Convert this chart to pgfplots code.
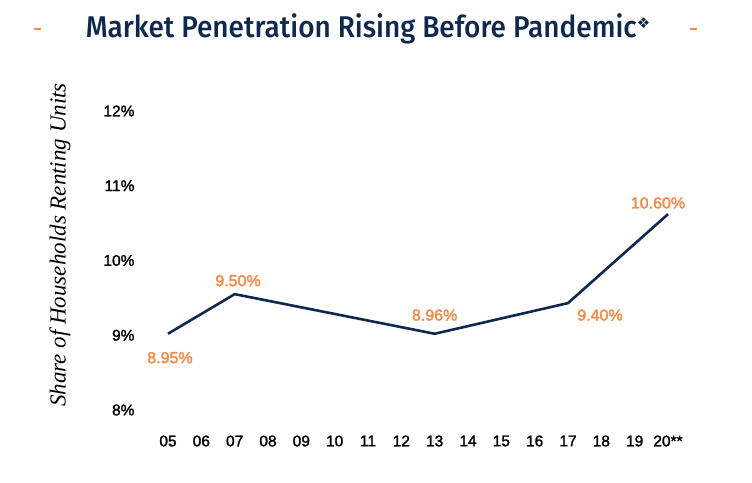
\documentclass[border=0pt]{standalone}
\usepackage{pgfplots}
\pgfplotsset{compat=1.18}
\usepackage{fontspec}
\setmainfont{Liberation Sans}
\newfontfamily\tickfont[FakeBold=1.6]{Liberation Sans}
\newfontfamily\labfont[FakeBold=2.2]{Liberation Sans}
\newfontfamily\titlefont{Fira Sans Medium}
\newfontfamily\serifit{Liberation Serif}
\newfontfamily\symfont{DejaVu Sans}
\definecolor{navy}{RGB}{14,40,78}
\definecolor{orng}{RGB}{247,138,72}
\begin{document}
\begin{tikzpicture}[x=1pt,y=1pt]
\useasboundingbox (-168,-72) rectangle (584,410);
\begin{axis}[
  scale only axis, width=500pt, height=299pt,
  xmin=5, xmax=20, ymin=8, ymax=12,
  axis line style={draw=none}, tick style={draw=none},
  xtick={5,...,20},
  xticklabels={05,06,07,08,09,10,11,12,13,14,15,16,17,18,19,20**},
  ytick={8,9,10,11,12},
  yticklabels={8\%,9\%,10\%,11\%,12\%},
  tick label style={font=\tickfont\fontsize{15.5}{18}\selectfont, text=black},
  xticklabel style={yshift=-22pt},
  yticklabel style={xshift=-30pt},
  clip=false,
]
\addplot[navy, line width=2.6pt, line join=round] coordinates {
 (5,9.02) (7,9.55) (13,9.02) (17,9.43) (20,10.62)
};
\begin{scope}[every node/.style={font=\labfont\fontsize{16}{18}\selectfont, text=orng}]
\node at (axis cs:5.06,8.70) {8.95\%};
\node at (axis cs:7.1,9.73) {9.50\%};
\node at (axis cs:13.0,9.27) {8.96\%};
\node at (axis cs:17.96,9.27) {9.40\%};
\node at (axis cs:19.7,10.77) {10.60\%};
\end{scope}
\node[rotate=90, font=\serifit\itshape\fontsize{23}{25}\selectfont] at (rel axis cs:-0.216,0.552) {Share of Households Renting Units};
\end{axis}
\node[text=navy, anchor=center, inner sep=0] at (200,381) {\resizebox{551pt}{\height}{\titlefont\fontsize{30}{34}\selectfont Market Penetration Rising Before Pandemic}\raisebox{9pt}{\symfont\fontsize{15}{15}\selectfont ❖}};
\draw[orng, line width=1.2pt] (34-168,381) -- (41-168,381);
\draw[orng, line width=1.2pt] (690-168,381) -- (697-168,381);
\end{tikzpicture}
\end{document}
